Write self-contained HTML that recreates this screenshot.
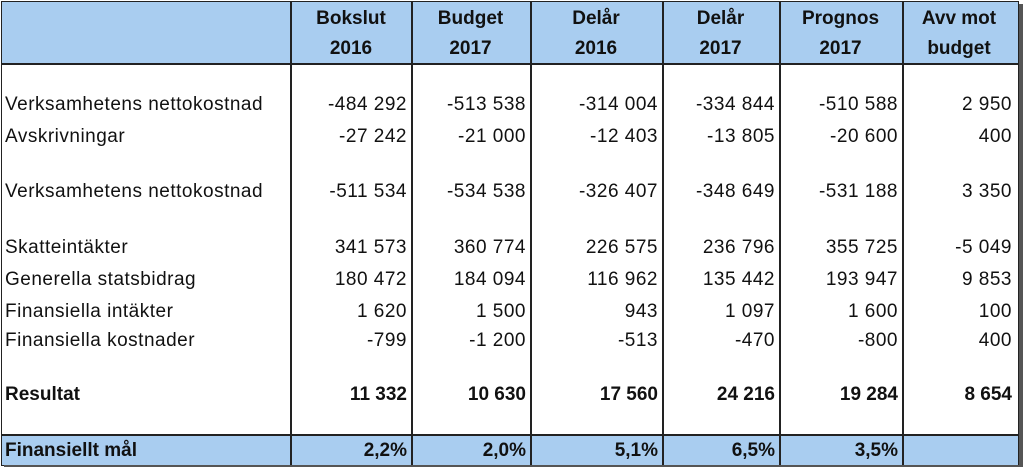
<!DOCTYPE html>
<html><head><meta charset="utf-8"><style>
body{margin:0;width:1023px;height:467px;overflow:hidden;background:#fff;font-family:"Liberation Sans",sans-serif;position:relative}
.bg{position:absolute}
.t{position:absolute;font-size:19px;letter-spacing:0.5px;color:#111;white-space:nowrap;line-height:22px}
.b{font-weight:bold;letter-spacing:0}
.r{text-align:right}
.c{text-align:center}
.v{position:absolute;top:2px;width:1.5px;height:463px;background:#222}
</style></head><body>
<div class="bg" style="left:2px;top:2px;width:1016px;height:61px;background:#a9cdf0"></div>
<div class="bg" style="left:2px;top:435px;width:1016px;height:30px;background:#a9cdf0"></div>
<div class="bg" style="left:1px;top:1px;width:1016px;height:463px;border:1.5px solid #222"></div>
<div class="bg" style="left:2px;top:63px;width:1016px;height:1.5px;background:#222"></div>
<div class="bg" style="left:2px;top:434px;width:1016px;height:1.5px;background:#222"></div>
<div class="bg" style="left:1019px;top:4px;width:4px;height:463px;background:#555"></div>
<div class="bg" style="left:4px;top:465px;width:1019px;height:2px;background:#555"></div>
<div class="v" style="left:290px"></div><div class="v" style="left:411px"></div><div class="v" style="left:530px"></div><div class="v" style="left:662px"></div><div class="v" style="left:779px"></div><div class="v" style="left:902px"></div>
<div id="tbl"></div>
<script>
const cols=[[291,411],[411,530],[530,662],[662,779],[779,902],[902,1016]];
const heads=[["Bokslut","2016"],["Budget","2017"],["Delår","2016"],["Delår","2017"],["Prognos","2017"],["Avv mot","budget"]];
const rows=[
["Verksamhetens nettokostnad",104,false,["-484 292","-513 538","-314 004","-334 844","-510 588","2 950"]],
["Avskrivningar",136,false,["-27 242","-21 000","-12 403","-13 805","-20 600","400"]],
["Verksamhetens nettokostnad",191,false,["-511 534","-534 538","-326 407","-348 649","-531 188","3 350"]],
["Skatteintäkter",247,false,["341 573","360 774","226 575","236 796","355 725","-5 049"]],
["Generella statsbidrag",279,false,["180 472","184 094","116 962","135 442","193 947","9 853"]],
["Finansiella intäkter",311,false,["1 620","1 500","943","1 097","1 600","100"]],
["Finansiella kostnader",340,false,["-799","-1 200","-513","-470","-800","400"]],
["Resultat",394,true,["11 332","10 630","17 560","24 216","19 284","8 654"]],
["Finansiellt mål",450,true,["2,2%","2,0%","5,1%","6,5%","3,5%",""]]];
const root=document.getElementById('tbl');
function mk(txt,cls,l,w,y){const d=document.createElement('div');d.className='t '+cls;d.textContent=txt;d.style.left=l+'px';if(w)d.style.width=w+'px';d.style.top=(y-10)+'px';root.appendChild(d);return d;}
heads.forEach((h,i)=>{const[a,b]=cols[i];
const e1=mk(h[0],'b c',a,b-a,18);


const e2=mk(h[1],'b c',a,b-a,48);

});
rows.forEach((r,ri)=>{const lab=mk(r[0],r[2]?'b':'',5,0,r[1]);


r[3].forEach((v,ci)=>{const[a,b]=cols[ci];const c=mk(v,(r[2]?'b ':'')+'r',a,b-a-4,r[1]);

});});
</script>
</body></html>
